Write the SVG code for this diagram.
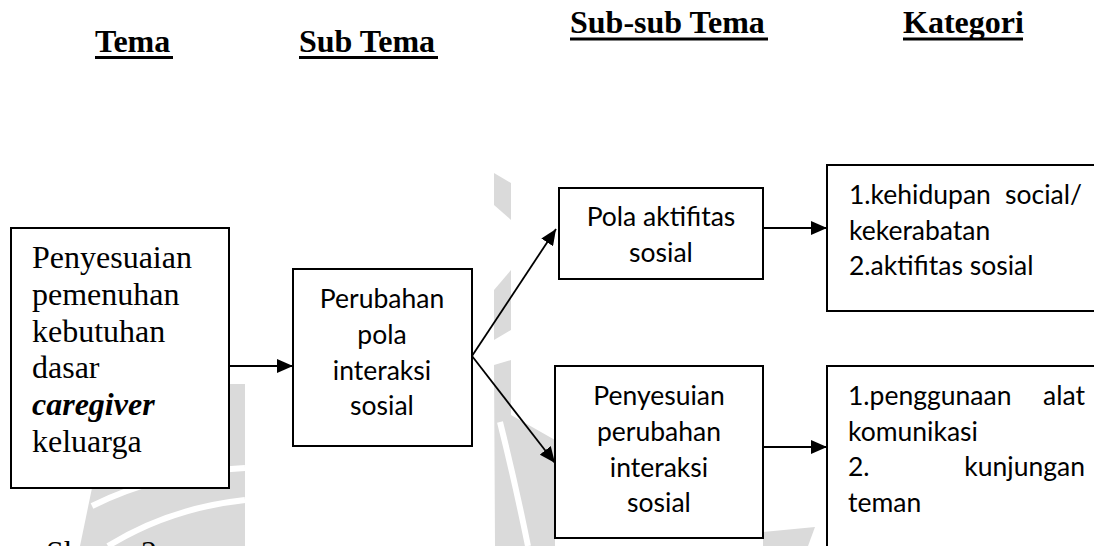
<svg xmlns="http://www.w3.org/2000/svg" width="1094" height="546" viewBox="0 0 1094 546">
  <defs>
    <style>
      .box { fill: #ffffff; stroke: #000000; stroke-width: 2; }
      .serif { font-family: "Liberation Serif", "Times New Roman", serif; font-size: 32px; fill: #000; }
      .head { font-family: "Liberation Serif", "Times New Roman", serif; font-size: 32px; font-weight: bold; fill: #000; }
      .sans { font-family: Lato, "Open Sans", "Liberation Sans", sans-serif; font-size: 26.5px; fill: #000; }
      .mid { text-anchor: middle; }
      .end { text-anchor: end; }
      .conn { stroke: #000; stroke-width: 1.8; fill: none; marker-end: url(#arrow); }
      .wm { fill: #dadada; stroke: none; }
      .wmcut { fill: none; stroke: #ffffff; stroke-width: 6; }
    </style>
    <marker id="arrow" markerUnits="userSpaceOnUse" markerWidth="17" markerHeight="14" refX="16" refY="7" orient="auto">
      <path d="M0,0 L16,7 L0,14 Z" fill="#000"/>
    </marker>
  </defs>
  <rect width="1094" height="546" fill="#ffffff"/>

  <g id="watermark">
    <path class="wm" d="M229,384 L245,384 L245,546 L80,546 L92,488 L229,488 Z"/>
    <path class="wmcut" d="M92,506 Q160,472 245,468"/>
    <path class="wmcut" d="M108,546 Q170,508 245,500"/>
    <path class="wm" d="M494,173 L511,183 L511,220 L494,205 Z"/>
    <path class="wm" d="M494,290 L511,270 L511,330 L494,340 Z"/>
    <path class="wm" d="M494,365 L511,360 L511,415 L555,440 L555,546 L495,546 Z"/>
    <path class="wmcut" d="M500,422 Q515,482 528,546"/>
    <path class="wm" d="M763,532 L815,527 L808,546 L763,546 Z"/>
  </g>

  <g id="headings">
    <text class="head" x="95" y="52">Tema</text>
    <rect x="95" y="56" width="78" height="3" fill="#000"/>
    <text class="head" x="299" y="52">Sub Tema</text>
    <rect x="299" y="56" width="139" height="3" fill="#000"/>
    <text class="head" x="570" y="33">Sub-sub Tema</text>
    <rect x="570" y="37.5" width="198" height="3" fill="#000"/>
    <text class="head" x="903" y="33">Kategori</text>
    <rect x="903" y="37.5" width="120" height="3" fill="#000"/>
  </g>

  <g id="connectors">
    <line class="conn" x1="229" y1="366" x2="293" y2="366"/>
    <line class="conn" x1="472" y1="356" x2="556" y2="229"/>
    <line class="conn" x1="472" y1="356" x2="555" y2="463"/>
    <line class="conn" x1="763" y1="228" x2="827" y2="228"/>
    <line class="conn" x1="763" y1="447" x2="827" y2="447"/>
  </g>

  <g id="node-tema">
    <rect class="box" x="11" y="228" width="218" height="260"/>
    <text class="serif" x="32" y="268">Penyesuaian</text>
    <text class="serif" x="32" y="305">pemenuhan</text>
    <text class="serif" x="32" y="342">kebutuhan</text>
    <text class="serif" x="32" y="378">dasar</text>
    <text class="serif" x="32" y="415" font-weight="bold" font-style="italic">caregiver</text>
    <text class="serif" x="32" y="452">keluarga</text>
  </g>

  <g id="node-subtema">
    <rect class="box" x="293" y="269" width="179" height="177"/>
    <text class="sans mid" x="382" y="308">Perubahan</text>
    <text class="sans mid" x="382" y="344">pola</text>
    <text class="sans mid" x="382" y="380">interaksi</text>
    <text class="sans mid" x="382" y="415">sosial</text>
  </g>

  <g id="node-pola-aktifitas">
    <rect class="box" x="559" y="188" width="204" height="91"/>
    <text class="sans mid" x="661" y="226">Pola aktifitas</text>
    <text class="sans mid" x="661" y="262">sosial</text>
  </g>

  <g id="node-penyesuian-interaksi">
    <rect class="box" x="555" y="366" width="208" height="172"/>
    <text class="sans mid" x="659" y="405">Penyesuian</text>
    <text class="sans mid" x="659" y="441">perubahan</text>
    <text class="sans mid" x="659" y="477">interaksi</text>
    <text class="sans mid" x="659" y="512">sosial</text>
  </g>

  <g id="node-kategori-1">
    <rect class="box" x="827" y="165" width="300" height="146"/>
    <text class="sans" x="849" y="204">1.kehidupan</text>
    <text class="sans end" x="1082" y="204">social/</text>
    <text class="sans" x="849" y="240">kekerabatan</text>
    <text class="sans" x="849" y="275">2.aktifitas sosial</text>
  </g>

  <g id="node-kategori-2">
    <rect class="box" x="827" y="366" width="300" height="220"/>
    <text class="sans" x="848" y="405">1.penggunaan</text>
    <text class="sans end" x="1085" y="405">alat</text>
    <text class="sans" x="848" y="441">komunikasi</text>
    <text class="sans" x="848" y="476">2.</text>
    <text class="sans end" x="1085" y="476">kunjungan</text>
    <text class="sans" x="848" y="512">teman</text>
  </g>

  <g id="caption">
    <text class="serif" x="46" y="563">Skema 2</text>
  </g>
</svg>
